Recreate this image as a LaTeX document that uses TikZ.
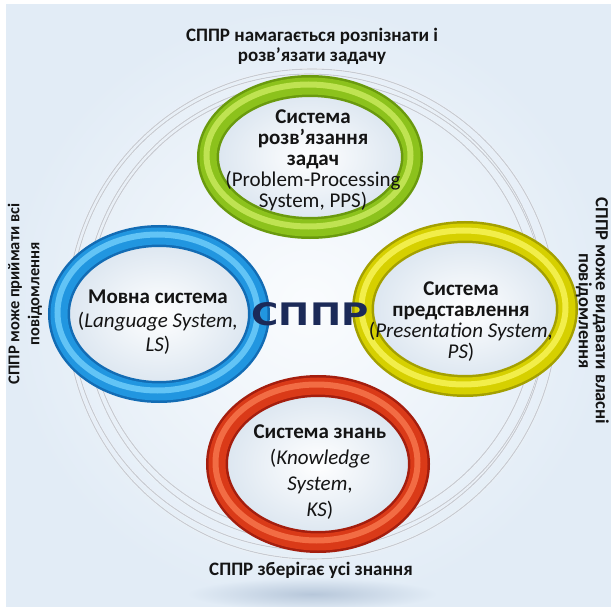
\documentclass[tikz,border=0pt]{standalone}
\usepackage{fontspec}
\setmainfont{Carlito}
\newfontfamily\heavyfont{DejaVu Sans}
\definecolor{bgouter}{HTML}{E2ECF6}
\definecolor{bginner}{HTML}{FAFCFE}
\definecolor{shadowc}{HTML}{B7C7DA}
\definecolor{innerc}{HTML}{D9E4EF}
\definecolor{arcc}{HTML}{C6CBD3}
\definecolor{navy}{HTML}{1B2A58}
\definecolor{txt}{HTML}{141414}
\definecolor{gdark}{HTML}{6A9A0E}
\definecolor{gbase}{HTML}{8CC21C}
\definecolor{glight}{HTML}{BFE352}
\definecolor{bdark}{HTML}{136CB4}
\definecolor{bbase}{HTML}{2196E0}
\definecolor{blight}{HTML}{62C4F6}
\definecolor{ydark}{HTML}{A4A000}
\definecolor{ybase}{HTML}{D6D000}
\definecolor{ylight}{HTML}{F2EE4A}
\definecolor{rdark}{HTML}{A41E0E}
\definecolor{rbase}{HTML}{DA3A18}
\definecolor{rlight}{HTML}{F26C44}
\newcommand\myring[6]{%
  \shade[inner color=white, outer color=innerc] #1 ellipse [x radius=#2, y radius=#3];
  \draw[line width=22pt, #4] #1 ellipse [x radius=#2, y radius=#3];
  \draw[line width=17pt, #5] #1 ellipse [x radius=#2, y radius=#3];
  \draw[line width=6pt, #6, xshift=-1.5pt, yshift=1.5pt] #1 ellipse [x radius=#2, y radius=#3];
}
\tikzset{
  ringtext/.style={align=center, text=txt, inner sep=0pt},
  labeltext/.style={align=center, text=txt, inner sep=0pt},
  arcline/.style={draw=arcc, line width=1.1pt},
  arcwhite/.style={draw=white, line width=1.6pt},
}
\begin{document}
\begin{tikzpicture}[x=1pt,y=-1pt]
\useasboundingbox (0,0) rectangle (611,607);
\fill[white] (0,0) rectangle (611,607);
\shade[inner color=bginner, outer color=bgouter] (6,5) rectangle (611,607);
% shadow under the red ring
\shade[inner color=shadowc, outer color=bgouter] (312,594) ellipse [x radius=125pt, y radius=16pt];
% decorative arcs
\foreach \r/\dx/\dy in {224/0/0, 231/3/2, 238/-3/2, 245/0/4}{
  \draw[arcwhite] ({312+\dx},{310+\dy}) circle [radius=\r pt];
  \draw[arcline] ({312+\dx},{310+\dy}) circle [radius=\r pt];
}
% rings
\myring{(310,157)}{102pt}{71pt}{gdark}{gbase}{glight}
\myring{(159,314)}{100pt}{78pt}{bdark}{bbase}{blight}
\myring{(465,309)}{102pt}{77pt}{ydark}{ybase}{ylight}
\myring{(318,464)}{101pt}{78pt}{rdark}{rbase}{rlight}
% texts
\node[labeltext, font=\bfseries\fontsize{19}{20}\selectfont] (title) at (312,46)
  {СППР намагається розпізнати і\\розв’язати задачу};
\node[labeltext, anchor=base, font=\bfseries\fontsize{19}{20}\selectfont] (bottom) at (311,575)
  {СППР зберігає усі знання};
\node[labeltext, rotate=90, font=\bfseries\fontsize{16.5}{20}\selectfont] (left) at (25,294)
  {СППР може приймати всі\\повідомлення};
\node[labeltext, rotate=-90, anchor=north, font=\bfseries\fontsize{18.5}{17}\selectfont] (right) at (609,311)
  {СППР може видавати власні\\повідомлення};
\node[ringtext, font=\fontsize{21}{21}\selectfont] (pps) at (313,160)
  {\textbf{Система}\\\textbf{розв’язання}\\\textbf{задач}\\(Problem-Processing\\System, PPS)};
\node[ringtext, font=\fontsize{21}{24}\selectfont] (ls) at (158,322)
  {\textbf{Мовна система}\\(\textit{Language System,}\\\textit{LS})};
\node[ringtext, font=\fontsize{21}{21}\selectfont] (ps) at (461,322)
  {\textbf{Система}\\\textbf{представлення}\\(\textit{Presentation System,}\\\textit{PS})};
\node[ringtext, font=\fontsize{21}{26}\selectfont] (ks) at (320,472)
  {\textbf{Система знань}\\(\textit{Knowledge}\\\textit{System},\\\textit{KS})};
\node[inner sep=0pt, text=navy, xscale=1.2, font=\heavyfont\bfseries\fontsize{31}{31}\selectfont] (dss) at (310,314) {СППР};
\end{tikzpicture}
\end{document}
